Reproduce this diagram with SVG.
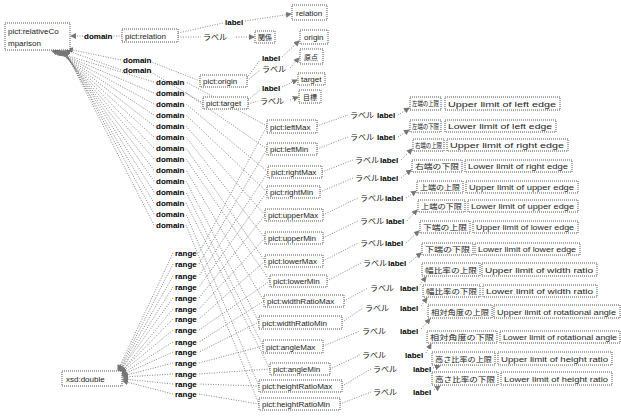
<svg xmlns="http://www.w3.org/2000/svg" width="621" height="419" viewBox="0 0 621 419">
<style>
.b{fill:#fff;stroke:#555;stroke-width:1;stroke-dasharray:1,1}
.t{font-family:"Liberation Sans",Arial,sans-serif;font-size:8px;fill:#222}
.j{font-family:"Liberation Sans","Noto Sans CJK JP",sans-serif;font-size:7px;fill:#222}
.k{font-family:"Liberation Sans",Arial,sans-serif;font-size:8px;font-weight:bold;fill:#000}
.r{font-family:"Noto Sans CJK JP",sans-serif;font-size:8px;fill:#222}
.c{fill:none;stroke:#666;stroke-width:0.8;stroke-dasharray:1,1.5}
</style>
<defs>
<marker id="a" markerWidth="6" markerHeight="6" refX="5" refY="3" orient="auto" markerUnits="userSpaceOnUse">
<path d="M0,0 L6,3 L0,6 Z" fill="#777"/>
</marker>
</defs>
<g id="connectors">
<!-- top relation/origin/target -->
<path class="c" marker-end="url(#a)" d="M122,36 L112,36 M83,36 L71,36"/>
<path class="c" marker-end="url(#a)" d="M200,81 L149,61 M121,60 L68,49"/>
<path class="c" marker-end="url(#a)" d="M203,103 L149,71 M121,70 L66,50"/>
<path class="c" marker-end="url(#a)" d="M178,33 L223,23 M245,21 L291,14"/>
<path class="c" marker-end="url(#a)" d="M178,37 L201,37 M236,37 L254,37"/>
<path class="c" marker-end="url(#a)" d="M247,78 L260,60 M282,57 L299,41"/>
<path class="c" marker-end="url(#a)" d="M247,81 L260,70 M290,68 L299,58"/>
<path class="c" marker-end="url(#a)" d="M248,100 L260,90 M282,87 L297,80"/>
<path class="c" marker-end="url(#a)" d="M248,104 L258,101 M290,100 L298,97"/>
<!-- domain edges -->
<path class="c" marker-end="url(#a)" d="M267,126 L186,82 M154,82 L52,51"/>
<path class="c" marker-end="url(#a)" d="M267,149 L186,93 M154,93 L54,51"/>
<path class="c" marker-end="url(#a)" d="M268,172 L186,104 M154,104 L56,51"/>
<path class="c" marker-end="url(#a)" d="M267,192 L186,115 M154,115 L57,51"/>
<path class="c" marker-end="url(#a)" d="M265,215 L186,126 M154,126 L58,51"/>
<path class="c" marker-end="url(#a)" d="M265,238 L186,137 M154,137 L59,51"/>
<path class="c" marker-end="url(#a)" d="M265,261 L186,148 M154,148 L60,51"/>
<path class="c" marker-end="url(#a)" d="M270,281 L186,159 M154,159 L61,51"/>
<path class="c" marker-end="url(#a)" d="M264,301 L186,170 M154,170 L62,51"/>
<path class="c" marker-end="url(#a)" d="M259,322 L186,181 M154,181 L63,51"/>
<path class="c" marker-end="url(#a)" d="M263,346 L186,192 M154,192 L64,51"/>
<path class="c" marker-end="url(#a)" d="M270,369 L186,203 M154,203 L64,51"/>
<path class="c" marker-end="url(#a)" d="M259,386 L186,214 M154,214 L65,51"/>
<path class="c" marker-end="url(#a)" d="M259,404 L186,225 M154,225 L65,51"/>
<!-- range edges -->
<path class="c" marker-end="url(#a)" d="M267,126 L199,253 M173,253 L118,370"/>
<path class="c" marker-end="url(#a)" d="M267,149 L199,264 M173,264 L119,370"/>
<path class="c" marker-end="url(#a)" d="M268,172 L199,276 M173,276 L119,371"/>
<path class="c" marker-end="url(#a)" d="M267,192 L199,287 M173,287 L120,371"/>
<path class="c" marker-end="url(#a)" d="M265,215 L199,298 M173,298 L120,371"/>
<path class="c" marker-end="url(#a)" d="M265,238 L199,309 M173,309 L121,372"/>
<path class="c" marker-end="url(#a)" d="M265,261 L199,319 M173,319 L121,372"/>
<path class="c" marker-end="url(#a)" d="M270,281 L199,330 M173,330 L121,373"/>
<path class="c" marker-end="url(#a)" d="M264,301 L199,342 M173,342 L122,374"/>
<path class="c" marker-end="url(#a)" d="M259,322 L199,352 M173,352 L122,375"/>
<path class="c" marker-end="url(#a)" d="M263,346 L199,363 M173,363 L123,376"/>
<path class="c" marker-end="url(#a)" d="M270,369 L199,374 M173,374 L123,377"/>
<path class="c" marker-end="url(#a)" d="M259,386 L199,384 M173,384 L123,379"/>
<path class="c" marker-end="url(#a)" d="M259,404 L199,394 M173,394 L123,381"/>
<!-- label edges -->
<path class="c" marker-end="url(#a)" d="M317,126 L348,115 M398,115 L409,108"/>
<path class="c" marker-end="url(#a)" d="M317,149 L348,137 M398,137 L409,130"/>
<path class="c" marker-end="url(#a)" d="M322,172 L353,160 M401,160 L412,149"/>
<path class="c" marker-end="url(#a)" d="M320,192 L353,178 M401,178 L411,170"/>
<path class="c" marker-end="url(#a)" d="M323,215 L358,198 M406,198 L416,191"/>
<path class="c" marker-end="url(#a)" d="M323,238 L358,221 M407,221 L417,210"/>
<path class="c" marker-end="url(#a)" d="M323,261 L358,243 M406,243 L419,231"/>
<path class="c" marker-end="url(#a)" d="M327,281 L361,263 M409,263 L421,253"/>
<path class="c" marker-end="url(#a)" d="M344,301 L368,288 M420,285 L426,277"/>
<path class="c" marker-end="url(#a)" d="M342,322 L363,308 M421,306 L427,298"/>
<path class="c" marker-end="url(#a)" d="M323,346 L360,331 M421,329 L430,319"/>
<path class="c" marker-end="url(#a)" d="M330,369 L360,355 M426,353 L431,344"/>
<path class="c" marker-end="url(#a)" d="M342,386 L371,369 M433,368 L440,366"/>
<path class="c" marker-end="url(#a)" d="M340,404 L371,392 M434,390 L440,386"/>
</g>
<g id="edge-labels">
<text class="k" x="84" y="39">domain</text>
<text class="k" x="123" y="63">domain</text>
<text class="k" x="123" y="73">domain</text>
<text class="k" x="225" y="25">label</text>
<text class="r" x="203" y="40">ラベル</text>
<text class="k" x="262" y="61">label</text>
<text class="r" x="262" y="72">ラベル</text>
<text class="k" x="262" y="91">label</text>
<text class="r" x="260" y="104">ラベル</text>
<text class="k" x="156" y="85">domain</text>
<text class="k" x="156" y="96">domain</text>
<text class="k" x="156" y="107">domain</text>
<text class="k" x="156" y="118">domain</text>
<text class="k" x="156" y="129">domain</text>
<text class="k" x="156" y="140">domain</text>
<text class="k" x="156" y="151">domain</text>
<text class="k" x="156" y="162">domain</text>
<text class="k" x="156" y="173">domain</text>
<text class="k" x="156" y="184">domain</text>
<text class="k" x="156" y="195">domain</text>
<text class="k" x="156" y="206">domain</text>
<text class="k" x="156" y="217">domain</text>
<text class="k" x="156" y="228">domain</text>
<text class="k" x="175" y="256">range</text>
<text class="k" x="175" y="267">range</text>
<text class="k" x="175" y="279">range</text>
<text class="k" x="175" y="290">range</text>
<text class="k" x="175" y="301">range</text>
<text class="k" x="175" y="312">range</text>
<text class="k" x="175" y="322">range</text>
<text class="k" x="175" y="333">range</text>
<text class="k" x="175" y="345">range</text>
<text class="k" x="175" y="355">range</text>
<text class="k" x="175" y="366">range</text>
<text class="k" x="175" y="377">range</text>
<text class="k" x="175" y="387">range</text>
<text class="k" x="175" y="397">range</text>
<text class="r" x="350" y="118">ラベル</text><text class="k" x="377" y="118">label</text>
<text class="r" x="350" y="140">ラベル</text><text class="k" x="377" y="140">label</text>
<text class="r" x="355" y="163">ラベル</text><text class="k" x="380" y="163">label</text>
<text class="r" x="355" y="181">ラベル</text><text class="k" x="380" y="181">label</text>
<text class="r" x="360" y="201">ラベル</text><text class="k" x="385" y="201">label</text>
<text class="r" x="360" y="224">ラベル</text><text class="k" x="386" y="224">label</text>
<text class="r" x="360" y="246">ラベル</text><text class="k" x="385" y="246">label</text>
<text class="r" x="363" y="266">ラベル</text><text class="k" x="388" y="266">label</text>
<text class="r" x="370" y="291">ラベル</text><text class="k" x="400" y="291">label</text>
<text class="r" x="365" y="311">ラベル</text><text class="k" x="400" y="311">label</text>
<text class="r" x="362" y="334">ラベル</text><text class="k" x="400" y="334">label</text>
<text class="r" x="362" y="358">ラベル</text><text class="k" x="405" y="358">label</text>
<text class="r" x="373" y="372">ラベル</text><text class="k" x="413" y="372">label</text>
<text class="r" x="373" y="395">ラベル</text><text class="k" x="413" y="395">label</text>
</g>
<g id="relativeComparison"><rect class="b" x="5" y="23" width="65" height="27"/><text class="t" x="8" y="34">pict:relativeCo</text><text class="t" x="8" y="46">mparison</text></g>
<g id="relation"><rect class="b" x="122" y="29" width="56" height="13"/><text class="t" x="125" y="38.5">pict:relation</text></g>
<g id="origin"><rect class="b" x="200" y="75" width="47" height="12"/><text class="t" x="203" y="84">pict:origin</text></g>
<g id="target"><rect class="b" x="203" y="97" width="45" height="12"/><text class="t" x="206" y="106">pict:target</text></g>
<g id="relation-en"><rect class="b" x="292" y="5" width="35" height="15"/><text class="t" x="296" y="15.5">relation</text></g>
<g id="relation-ja"><rect class="b" x="255" y="31" width="20" height="12"/><text class="j" x="258" y="40">関係</text></g>
<g id="origin-en"><rect class="b" x="300" y="30" width="28" height="14"/><text class="t" x="304" y="40">origin</text></g>
<g id="origin-ja"><rect class="b" x="300" y="49" width="23" height="15"/><text class="j" x="304" y="59.5">原点</text></g>
<g id="target-en"><rect class="b" x="298" y="73" width="27" height="12"/><text class="t" x="301" y="82">target</text></g>
<g id="target-ja"><rect class="b" x="299" y="90" width="22" height="13"/><text class="j" x="303" y="99.5">目標</text></g>
<g id="double"><rect class="b" x="62" y="371" width="60" height="15"/><text class="t" x="66" y="381.5">xsd:double</text></g>
<g id="leftMax"><rect class="b" x="267" y="120" width="50" height="13"/><text class="t" x="270" y="129.5">pict:leftMax</text></g>
<g id="leftMin"><rect class="b" x="267" y="143" width="50" height="12"/><text class="t" x="270" y="152">pict:leftMin</text></g>
<g id="rightMax"><rect class="b" x="268" y="166" width="54" height="12"/><text class="t" x="271" y="175">pict:rightMax</text></g>
<g id="rightMin"><rect class="b" x="267" y="186" width="53" height="12"/><text class="t" x="270" y="195">pict:rightMin</text></g>
<g id="upperMax"><rect class="b" x="265" y="209" width="58" height="12"/><text class="t" x="268" y="218">pict:upperMax</text></g>
<g id="upperMin"><rect class="b" x="265" y="232" width="58" height="12"/><text class="t" x="268" y="241">pict:upperMin</text></g>
<g id="lowerMax"><rect class="b" x="265" y="255" width="58" height="12"/><text class="t" x="268" y="264">pict:lowerMax</text></g>
<g id="lowerMin"><rect class="b" x="270" y="275" width="57" height="12"/><text class="t" x="273" y="284">pict:lowerMin</text></g>
<g id="widthRatioMax"><rect class="b" x="264" y="295" width="80" height="12"/><text class="t" x="267" y="304">pict:widthRatioMax</text></g>
<g id="widthRatioMin"><rect class="b" x="259" y="316" width="83" height="13"/><text class="t" x="262" y="325.5">pict:widthRatioMin</text></g>
<g id="angleMax"><rect class="b" x="263" y="340" width="60" height="13"/><text class="t" x="266" y="349.5">pict:angleMax</text></g>
<g id="angleMin"><rect class="b" x="270" y="363" width="60" height="12"/><text class="t" x="273" y="372">pict:angleMin</text></g>
<g id="heightRatioMax"><rect class="b" x="259" y="380" width="83" height="12"/><text class="t" x="262" y="389">pict:heightRatioMax</text></g>
<g id="heightRatioMin"><rect class="b" x="259" y="398" width="81" height="12"/><text class="t" x="262" y="407">pict:heightRatioMin</text></g>
<g id="ja-labels">
<rect class="b" x="410" y="97" width="31" height="13"/><text class="j" x="412" y="106" textLength="27" lengthAdjust="spacingAndGlyphs">左端の上限</text>
<rect class="b" x="410" y="120" width="31" height="12"/><text class="j" x="412" y="129" textLength="27" lengthAdjust="spacingAndGlyphs">左端の下限</text>
<rect class="b" x="413" y="139" width="31" height="12"/><text class="j" x="415" y="148" textLength="27" lengthAdjust="spacingAndGlyphs">右端の上限</text>
<rect class="b" x="412" y="160" width="50" height="12"/><text class="j" x="415" y="169" textLength="44" lengthAdjust="spacingAndGlyphs">右端の下限</text>
<rect class="b" x="417" y="181" width="46" height="12"/><text class="j" x="420" y="190" textLength="40" lengthAdjust="spacingAndGlyphs">上端の上限</text>
<rect class="b" x="418" y="200" width="47" height="12"/><text class="j" x="421" y="209" textLength="41" lengthAdjust="spacingAndGlyphs">上端の下限</text>
<rect class="b" x="420" y="221" width="50" height="12"/><text class="j" x="423" y="230" textLength="44" lengthAdjust="spacingAndGlyphs">下端の上限</text>
<rect class="b" x="422" y="243" width="51" height="12"/><text class="j" x="425" y="252" textLength="45" lengthAdjust="spacingAndGlyphs">下端の下限</text>
<rect class="b" x="422" y="263" width="58" height="13"/><text class="j" x="425" y="272.5" textLength="52" lengthAdjust="spacingAndGlyphs">幅比率の上限</text>
<rect class="b" x="423" y="285" width="57" height="12"/><text class="j" x="426" y="294" textLength="51" lengthAdjust="spacingAndGlyphs">幅比率の下限</text>
<rect class="b" x="428" y="305" width="64" height="13"/><text class="j" x="431" y="314.5" textLength="58" lengthAdjust="spacingAndGlyphs">相対角度の上限</text>
<rect class="b" x="427" y="331" width="70" height="12"/><text class="j" x="430" y="340" textLength="64" lengthAdjust="spacingAndGlyphs">相対角度の下限</text>
<rect class="b" x="432" y="352" width="63" height="13"/><text class="j" x="435" y="361.5" textLength="57" lengthAdjust="spacingAndGlyphs">高さ比率の上限</text>
<rect class="b" x="432" y="372" width="66" height="13"/><text class="j" x="435" y="381.5" textLength="60" lengthAdjust="spacingAndGlyphs">高さ比率の下限</text>
</g>
<g id="en-labels">
<rect class="b" x="445" y="97" width="115" height="13"/><text class="t" x="448" y="106.5" textLength="108" lengthAdjust="spacingAndGlyphs">Upper limit of left edge</text>
<rect class="b" x="445" y="120" width="111" height="12"/><text class="t" x="448" y="129" textLength="104" lengthAdjust="spacingAndGlyphs">Lower limit of left edge</text>
<rect class="b" x="447" y="139" width="121" height="12"/><text class="t" x="450" y="148" textLength="114" lengthAdjust="spacingAndGlyphs">Upper limit of right edge</text>
<rect class="b" x="465" y="160" width="107" height="12"/><text class="t" x="468" y="169" textLength="100" lengthAdjust="spacingAndGlyphs">Lower limit of right edge</text>
<rect class="b" x="466" y="181" width="112" height="12"/><text class="t" x="469" y="190" textLength="105" lengthAdjust="spacingAndGlyphs">Upper limit of upper edge</text>
<rect class="b" x="468" y="200" width="110" height="12"/><text class="t" x="471" y="209" textLength="103" lengthAdjust="spacingAndGlyphs">Lower limit of upper edge</text>
<rect class="b" x="473" y="221" width="105" height="12"/><text class="t" x="476" y="230" textLength="98" lengthAdjust="spacingAndGlyphs">Upper limit of lower edge</text>
<rect class="b" x="475" y="243" width="105" height="12"/><text class="t" x="478" y="252" textLength="98" lengthAdjust="spacingAndGlyphs">Lower limit of lower edge</text>
<rect class="b" x="482" y="263" width="115" height="13"/><text class="t" x="485" y="272.5" textLength="108" lengthAdjust="spacingAndGlyphs">Upper limit of width ratio</text>
<rect class="b" x="483" y="285" width="114" height="12"/><text class="t" x="486" y="294" textLength="107" lengthAdjust="spacingAndGlyphs">Lower limit of width ratio</text>
<rect class="b" x="494" y="305" width="126" height="13"/><text class="t" x="497" y="314.5" textLength="119" lengthAdjust="spacingAndGlyphs">Upper limit of rotational angle</text>
<rect class="b" x="500" y="331" width="120" height="12"/><text class="t" x="503" y="340" textLength="114" lengthAdjust="spacingAndGlyphs">Lower limit of rotational angle</text>
<rect class="b" x="498" y="352" width="114" height="13"/><text class="t" x="501" y="361.5" textLength="107" lengthAdjust="spacingAndGlyphs">Upper limit of height ratio</text>
<rect class="b" x="501" y="372" width="111" height="13"/><text class="t" x="504" y="381.5" textLength="104" lengthAdjust="spacingAndGlyphs">Lower limit of height ratio</text>
</g>
</svg>
